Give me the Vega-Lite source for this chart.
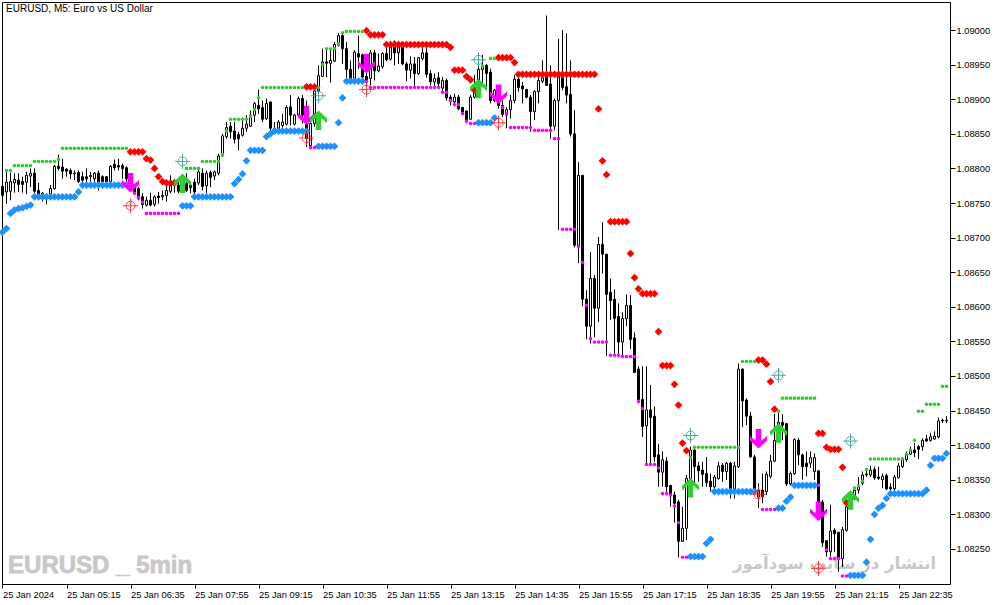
{"$schema":"https://vega.github.io/schema/vega-lite/v6.json","width":948,"height":582,"autosize":{"type":"none"},"padding":{"left":2,"top":2,"right":53,"bottom":21},"background":"#ffffff","view":{"stroke":"#000000","strokeWidth":1,"fill":"#ffffff"},
"config":{"axis":{"grid":false,"title":null,"domain":false,"tickColor":"#000000","labelColor":"#000000","labelFont":"Liberation Sans","labelFontSize":9.3}},
"datasets":{"bars":[
{"k":0,"o":1.08774,"h":1.08780,"l":1.08749,"c":1.08761,"b":1.08708},
{"k":1,"o":1.08766,"h":1.08795,"l":1.08749,"c":1.08780,"g":1.08797,"b":1.08713},
{"k":2,"o":1.08767,"h":1.08794,"l":1.08754,"c":1.08781,"g":1.08797,"b":1.08735},
{"k":3,"o":1.08779,"h":1.08793,"l":1.08765,"c":1.08784,"g":1.08804,"b":1.08740},
{"k":4,"o":1.08783,"h":1.08793,"l":1.08766,"c":1.08777,"g":1.08804,"b":1.08742},
{"k":5,"o":1.08781,"h":1.08788,"l":1.08765,"c":1.08777,"g":1.08804,"b":1.08743},
{"k":6,"o":1.08780,"h":1.08795,"l":1.08763,"c":1.08790,"g":1.08804,"b":1.08745},
{"k":7,"o":1.08789,"h":1.08800,"l":1.08773,"c":1.08793,"g":1.08804,"b":1.08747},
{"k":8,"o":1.08793,"h":1.08800,"l":1.08764,"c":1.08767,"g":1.08810,"b":1.08759},
{"k":9,"o":1.08768,"h":1.08779,"l":1.08754,"c":1.08762,"g":1.08810,"b":1.08759},
{"k":10,"o":1.08764,"h":1.08766,"l":1.08752,"c":1.08759,"g":1.08810,"b":1.08759},
{"k":11,"o":1.08760,"h":1.08764,"l":1.08748,"c":1.08758,"g":1.08810,"b":1.08759},
{"k":12,"o":1.08762,"h":1.08776,"l":1.08756,"c":1.08771,"g":1.08810,"b":1.08759},
{"k":13,"o":1.08771,"h":1.08805,"l":1.08769,"c":1.08803,"g":1.08810,"b":1.08759},
{"k":14,"o":1.08803,"h":1.08820,"l":1.08797,"c":1.08800,"g":1.08813,"b":1.08759},
{"k":15,"o":1.08802,"h":1.08814,"l":1.08785,"c":1.08796,"g":1.08829,"b":1.08759},
{"k":16,"o":1.08799,"h":1.08800,"l":1.08788,"c":1.08796,"g":1.08829,"b":1.08759},
{"k":17,"o":1.08797,"h":1.08800,"l":1.08785,"c":1.08792,"g":1.08829,"b":1.08759},
{"k":18,"o":1.08792,"h":1.08797,"l":1.08783,"c":1.08793,"g":1.08829,"b":1.08759},
{"k":19,"o":1.08794,"h":1.08797,"l":1.08779,"c":1.08781,"g":1.08829,"b":1.08766},
{"k":20,"o":1.08788,"h":1.08795,"l":1.08780,"c":1.08783,"g":1.08829,"b":1.08776},
{"k":21,"o":1.08788,"h":1.08800,"l":1.08773,"c":1.08785,"g":1.08829,"b":1.08776},
{"k":22,"o":1.08788,"h":1.08795,"l":1.08773,"c":1.08790,"g":1.08829,"b":1.08776},
{"k":23,"o":1.08785,"h":1.08795,"l":1.08773,"c":1.08793,"g":1.08829,"b":1.08776},
{"k":24,"o":1.08793,"h":1.08797,"l":1.08768,"c":1.08780,"g":1.08829,"b":1.08776},
{"k":25,"o":1.08788,"h":1.08790,"l":1.08771,"c":1.08781,"g":1.08829,"b":1.08776},
{"k":26,"o":1.08788,"h":1.08789,"l":1.08778,"c":1.08781,"g":1.08829,"b":1.08776},
{"k":27,"o":1.08781,"h":1.08805,"l":1.08778,"c":1.08803,"g":1.08829,"b":1.08776},
{"k":28,"o":1.08806,"h":1.08813,"l":1.08797,"c":1.08801,"g":1.08829,"b":1.08776},
{"k":29,"o":1.08804,"h":1.08814,"l":1.08797,"c":1.08802,"g":1.08829,"b":1.08776},
{"k":30,"o":1.08804,"h":1.08807,"l":1.08785,"c":1.08800,"g":1.08829,"b":1.08776},
{"k":31,"o":1.08801,"h":1.08803,"l":1.08780,"c":1.08785,"g":1.08829,"b":1.08776},
{"k":32,"o":1.08785,"h":1.08788,"l":1.08766,"c":1.08771,"r":1.08824},
{"k":33,"o":1.08772,"h":1.08776,"l":1.08764,"c":1.08766,"r":1.08824,"m":1.08764},
{"k":34,"o":1.08771,"h":1.08773,"l":1.08754,"c":1.08756,"r":1.08824,"m":1.08758},
{"k":35,"o":1.08759,"h":1.08764,"l":1.08742,"c":1.08748,"r":1.08824,"m":1.08751},
{"k":36,"o":1.08747,"h":1.08759,"l":1.08745,"c":1.08754,"r":1.08814,"m":1.08735},
{"k":37,"o":1.08754,"h":1.08765,"l":1.08745,"c":1.08747,"r":1.08812,"m":1.08735},
{"k":38,"o":1.08748,"h":1.08761,"l":1.08745,"c":1.08759,"r":1.08800,"m":1.08735},
{"k":39,"o":1.08760,"h":1.08766,"l":1.08749,"c":1.08758,"r":1.08788,"m":1.08735},
{"k":40,"o":1.08759,"h":1.08768,"l":1.08754,"c":1.08761,"r":1.08781,"m":1.08735},
{"k":41,"o":1.08761,"h":1.08776,"l":1.08752,"c":1.08768,"r":1.08779,"m":1.08735},
{"k":42,"o":1.08767,"h":1.08790,"l":1.08764,"c":1.08777,"r":1.08779,"m":1.08735},
{"k":43,"o":1.08776,"h":1.08785,"l":1.08765,"c":1.08780,"r":1.08779,"m":1.08735},
{"k":44,"o":1.08776,"h":1.08783,"l":1.08764,"c":1.08767,"m":1.08735},
{"k":45,"o":1.08766,"h":1.08788,"l":1.08764,"c":1.08778,"b":1.08746},
{"k":46,"o":1.08778,"h":1.08793,"l":1.08766,"c":1.08768,"g":1.08800,"b":1.08746},
{"k":47,"o":1.08776,"h":1.08780,"l":1.08764,"c":1.08772,"g":1.08800,"b":1.08746},
{"k":48,"o":1.08780,"h":1.08785,"l":1.08756,"c":1.08766,"g":1.08800,"b":1.08759},
{"k":49,"o":1.08779,"h":1.08800,"l":1.08776,"c":1.08795,"g":1.08800,"b":1.08759},
{"k":50,"o":1.08793,"h":1.08800,"l":1.08768,"c":1.08774,"g":1.08810,"b":1.08759},
{"k":51,"o":1.08775,"h":1.08797,"l":1.08764,"c":1.08793,"g":1.08810,"b":1.08759},
{"k":52,"o":1.08794,"h":1.08797,"l":1.08773,"c":1.08787,"g":1.08810,"b":1.08759},
{"k":53,"o":1.08789,"h":1.08797,"l":1.08783,"c":1.08795,"g":1.08810,"b":1.08759},
{"k":54,"o":1.08793,"h":1.08821,"l":1.08790,"c":1.08818,"g":1.08810,"b":1.08759},
{"k":55,"o":1.08818,"h":1.08850,"l":1.08817,"c":1.08847,"g":1.08820,"b":1.08759},
{"k":56,"o":1.08846,"h":1.08867,"l":1.08843,"c":1.08859,"g":1.08854,"b":1.08759},
{"k":57,"o":1.08861,"h":1.08867,"l":1.08843,"c":1.08853,"g":1.08871,"b":1.08759},
{"k":58,"o":1.08854,"h":1.08867,"l":1.08836,"c":1.08842,"g":1.08871,"b":1.08778},
{"k":59,"o":1.08849,"h":1.08853,"l":1.08826,"c":1.08843,"g":1.08871,"b":1.08784},
{"k":60,"o":1.08848,"h":1.08870,"l":1.08846,"c":1.08858,"g":1.08871,"b":1.08792},
{"k":61,"o":1.08858,"h":1.08877,"l":1.08853,"c":1.08864,"g":1.08871,"b":1.08811},
{"k":62,"o":1.08861,"h":1.08884,"l":1.08860,"c":1.08877,"g":1.08875,"b":1.08826},
{"k":63,"o":1.08877,"h":1.08896,"l":1.08867,"c":1.08894,"g":1.08885,"b":1.08826},
{"k":64,"o":1.08891,"h":1.08914,"l":1.08879,"c":1.08886,"g":1.08902,"b":1.08826},
{"k":65,"o":1.08888,"h":1.08898,"l":1.08867,"c":1.08871,"g":1.08917,"b":1.08826},
{"k":66,"o":1.08872,"h":1.08901,"l":1.08870,"c":1.08894,"g":1.08917,"b":1.08846},
{"k":67,"o":1.08896,"h":1.08897,"l":1.08853,"c":1.08858,"g":1.08917,"b":1.08850},
{"k":68,"o":1.08858,"h":1.08867,"l":1.08850,"c":1.08856,"g":1.08917,"b":1.08854},
{"k":69,"o":1.08856,"h":1.08870,"l":1.08853,"c":1.08867,"g":1.08917,"b":1.08854},
{"k":70,"o":1.08862,"h":1.08879,"l":1.08853,"c":1.08867,"g":1.08917,"b":1.08854},
{"k":71,"o":1.08864,"h":1.08891,"l":1.08862,"c":1.08888,"g":1.08917,"b":1.08854},
{"k":72,"o":1.08889,"h":1.08906,"l":1.08862,"c":1.08877,"g":1.08917,"b":1.08854},
{"k":73,"o":1.08864,"h":1.08879,"l":1.08862,"c":1.08877,"g":1.08917,"b":1.08854},
{"k":74,"o":1.08877,"h":1.08904,"l":1.08874,"c":1.08901,"g":1.08917,"b":1.08854},
{"k":75,"o":1.08901,"h":1.08906,"l":1.08865,"c":1.08877,"g":1.08917,"b":1.08854},
{"k":76,"o":1.08889,"h":1.08898,"l":1.08831,"c":1.08843,"r":1.08918,"b":1.08854},
{"k":77,"o":1.08833,"h":1.08872,"l":1.08831,"c":1.08865,"r":1.08918,"m":1.08830},
{"k":78,"o":1.08865,"h":1.08915,"l":1.08860,"c":1.08912,"r":1.08918,"m":1.08830},
{"k":79,"o":1.08912,"h":1.08949,"l":1.08908,"c":1.08934,"g":1.08917,"b":1.08832},
{"k":80,"o":1.08933,"h":1.08973,"l":1.08932,"c":1.08954,"g":1.08950,"b":1.08832},
{"k":81,"o":1.08954,"h":1.08971,"l":1.08932,"c":1.08952,"g":1.08973,"b":1.08832},
{"k":82,"o":1.08952,"h":1.08973,"l":1.08924,"c":1.08956,"g":1.08973,"b":1.08832},
{"k":83,"o":1.08955,"h":1.08983,"l":1.08954,"c":1.08979,"g":1.08973,"b":1.08832},
{"k":84,"o":1.08978,"h":1.08996,"l":1.08976,"c":1.08992,"g":1.08980,"b":1.08866},
{"k":85,"o":1.08992,"h":1.08997,"l":1.08951,"c":1.08973,"g":1.08996,"b":1.08902},
{"k":86,"o":1.08973,"h":1.08983,"l":1.08927,"c":1.08943,"g":1.08998,"b":1.08926},
{"k":87,"o":1.08943,"h":1.08956,"l":1.08927,"c":1.08930,"g":1.08998,"b":1.08926},
{"k":88,"o":1.08930,"h":1.08971,"l":1.08927,"c":1.08968,"g":1.08998,"b":1.08926},
{"k":89,"o":1.08966,"h":1.08992,"l":1.08944,"c":1.08961,"g":1.08998,"b":1.08926},
{"k":90,"o":1.08964,"h":1.08966,"l":1.08930,"c":1.08932,"g":1.08998,"b":1.08926},
{"k":91,"o":1.08933,"h":1.08942,"l":1.08920,"c":1.08927,"r":1.08999,"m":1.08926},
{"k":92,"o":1.08930,"h":1.08971,"l":1.08920,"c":1.08967,"r":1.08993,"m":1.08917},
{"k":93,"o":1.08967,"h":1.08971,"l":1.08927,"c":1.08941,"r":1.08993,"m":1.08917},
{"k":94,"o":1.08941,"h":1.08966,"l":1.08939,"c":1.08948,"r":1.08993,"m":1.08917},
{"k":95,"o":1.08947,"h":1.08968,"l":1.08944,"c":1.08966,"r":1.08993,"m":1.08917},
{"k":96,"o":1.08966,"h":1.08983,"l":1.08955,"c":1.08957,"r":1.08979,"m":1.08917},
{"k":97,"o":1.08958,"h":1.08983,"l":1.08956,"c":1.08978,"r":1.08979,"m":1.08917},
{"k":98,"o":1.08983,"h":1.08985,"l":1.08949,"c":1.08967,"r":1.08979,"m":1.08917},
{"k":99,"o":1.08967,"h":1.08983,"l":1.08951,"c":1.08976,"r":1.08979,"m":1.08917},
{"k":100,"o":1.08976,"h":1.08983,"l":1.08949,"c":1.08951,"r":1.08979,"m":1.08917},
{"k":101,"o":1.08951,"h":1.08954,"l":1.08926,"c":1.08942,"r":1.08979,"m":1.08917},
{"k":102,"o":1.08942,"h":1.08962,"l":1.08930,"c":1.08951,"r":1.08979,"m":1.08917},
{"k":103,"o":1.08951,"h":1.08961,"l":1.08917,"c":1.08937,"r":1.08979,"m":1.08917},
{"k":104,"o":1.08937,"h":1.08961,"l":1.08935,"c":1.08960,"r":1.08979,"m":1.08917},
{"k":105,"o":1.08959,"h":1.08976,"l":1.08956,"c":1.08967,"r":1.08979,"m":1.08917},
{"k":106,"o":1.08967,"h":1.08976,"l":1.08931,"c":1.08936,"r":1.08979,"m":1.08917},
{"k":107,"o":1.08937,"h":1.08942,"l":1.08920,"c":1.08925,"r":1.08979,"m":1.08917},
{"k":108,"o":1.08925,"h":1.08937,"l":1.08918,"c":1.08930,"r":1.08979,"m":1.08917},
{"k":109,"o":1.08931,"h":1.08939,"l":1.08915,"c":1.08923,"r":1.08979,"m":1.08917},
{"k":110,"o":1.08916,"h":1.08932,"l":1.08908,"c":1.08927,"r":1.08979,"m":1.08910},
{"k":111,"o":1.08927,"h":1.08930,"l":1.08898,"c":1.08902,"r":1.08979,"m":1.08910},
{"k":112,"o":1.08903,"h":1.08906,"l":1.08891,"c":1.08898,"r":1.08975,"m":1.08898},
{"k":113,"o":1.08896,"h":1.08908,"l":1.08891,"c":1.08903,"r":1.08942,"m":1.08892},
{"k":114,"o":1.08903,"h":1.08906,"l":1.08884,"c":1.08886,"r":1.08942,"m":1.08892},
{"k":115,"o":1.08888,"h":1.08889,"l":1.08877,"c":1.08881,"r":1.08942,"m":1.08879},
{"k":116,"o":1.08883,"h":1.08884,"l":1.08865,"c":1.08870,"r":1.08933,"m":1.08868},
{"k":117,"o":1.08871,"h":1.08906,"l":1.08870,"c":1.08903,"r":1.08928,"m":1.08865},
{"k":118,"o":1.08903,"h":1.08935,"l":1.08901,"c":1.08913,"r":1.08913,"m":1.08865},
{"k":119,"o":1.08913,"h":1.08949,"l":1.08911,"c":1.08943,"b":1.08866},
{"k":120,"o":1.08943,"h":1.08964,"l":1.08923,"c":1.08949,"g":1.08948,"b":1.08866},
{"k":121,"o":1.08949,"h":1.08951,"l":1.08918,"c":1.08937,"b":1.08866},
{"k":122,"o":1.08939,"h":1.08944,"l":1.08894,"c":1.08898,"g":1.08959,"b":1.08866},
{"k":123,"o":1.08898,"h":1.08915,"l":1.08896,"c":1.08913,"g":1.08959,"b":1.08873},
{"k":124,"o":1.08898,"h":1.08903,"l":1.08886,"c":1.08891,"r":1.08960},
{"k":125,"o":1.08891,"h":1.08898,"l":1.08874,"c":1.08878,"r":1.08960,"m":1.08888},
{"k":126,"o":1.08877,"h":1.08889,"l":1.08858,"c":1.08885,"r":1.08960,"m":1.08879},
{"k":127,"o":1.08885,"h":1.08906,"l":1.08872,"c":1.08898,"r":1.08960,"m":1.08859},
{"k":128,"o":1.08898,"h":1.08935,"l":1.08894,"c":1.08929,"r":1.08953,"m":1.08859},
{"k":129,"o":1.08929,"h":1.08935,"l":1.08911,"c":1.08917,"r":1.08936,"m":1.08859},
{"k":130,"o":1.08919,"h":1.08925,"l":1.08894,"c":1.08915,"r":1.08936,"m":1.08859},
{"k":131,"o":1.08914,"h":1.08915,"l":1.08901,"c":1.08903,"r":1.08936,"m":1.08859},
{"k":132,"o":1.08903,"h":1.08906,"l":1.08853,"c":1.08882,"r":1.08936,"m":1.08859},
{"k":133,"o":1.08882,"h":1.08913,"l":1.08870,"c":1.08911,"r":1.08936,"m":1.08855},
{"k":134,"o":1.08911,"h":1.08932,"l":1.08894,"c":1.08927,"r":1.08936,"m":1.08855},
{"k":135,"o":1.08926,"h":1.08956,"l":1.08923,"c":1.08931,"r":1.08936,"m":1.08855},
{"k":136,"o":1.08935,"h":1.09021,"l":1.08920,"c":1.08920,"r":1.08936,"m":1.08855},
{"k":137,"o":1.08922,"h":1.08949,"l":1.08843,"c":1.08861,"r":1.08936,"m":1.08855},
{"k":138,"o":1.08861,"h":1.08901,"l":1.08855,"c":1.08898,"r":1.08936,"m":1.08843},
{"k":139,"o":1.08898,"h":1.08987,"l":1.08711,"c":1.08935,"r":1.08936,"m":1.08843},
{"k":140,"o":1.08931,"h":1.09000,"l":1.08913,"c":1.08917,"r":1.08936,"m":1.08712},
{"k":141,"o":1.08918,"h":1.08995,"l":1.08894,"c":1.08906,"r":1.08936,"m":1.08712},
{"k":142,"o":1.08907,"h":1.08956,"l":1.08846,"c":1.08850,"r":1.08936,"m":1.08712},
{"k":143,"o":1.08850,"h":1.08884,"l":1.08686,"c":1.08689,"r":1.08936,"m":1.08712},
{"k":144,"o":1.08689,"h":1.08809,"l":1.08663,"c":1.08790,"r":1.08936,"m":1.08687},
{"k":145,"o":1.08790,"h":1.08790,"l":1.08601,"c":1.08611,"r":1.08936,"m":1.08664},
{"k":146,"o":1.08611,"h":1.08624,"l":1.08553,"c":1.08572,"r":1.08936,"m":1.08602},
{"k":147,"o":1.08572,"h":1.08679,"l":1.08547,"c":1.08641,"r":1.08936,"m":1.08554},
{"k":148,"o":1.08641,"h":1.08646,"l":1.08556,"c":1.08598,"r":1.08936,"m":1.08549},
{"k":149,"o":1.08598,"h":1.08701,"l":1.08578,"c":1.08690,"r":1.08886,"m":1.08549},
{"k":150,"o":1.08690,"h":1.08722,"l":1.08648,"c":1.08676,"r":1.08811,"m":1.08549},
{"k":151,"o":1.08676,"h":1.08676,"l":1.08529,"c":1.08618,"r":1.08791,"m":1.08549},
{"k":152,"o":1.08621,"h":1.08641,"l":1.08581,"c":1.08609,"r":1.08723,"m":1.08530},
{"k":153,"o":1.08611,"h":1.08625,"l":1.08531,"c":1.08583,"r":1.08723,"m":1.08530},
{"k":154,"o":1.08586,"h":1.08605,"l":1.08527,"c":1.08549,"r":1.08723,"m":1.08530},
{"k":155,"o":1.08549,"h":1.08592,"l":1.08527,"c":1.08583,"r":1.08723,"m":1.08528},
{"k":156,"o":1.08583,"h":1.08618,"l":1.08572,"c":1.08602,"r":1.08723,"m":1.08528},
{"k":157,"o":1.08602,"h":1.08617,"l":1.08539,"c":1.08553,"r":1.08677,"m":1.08528},
{"k":158,"o":1.08555,"h":1.08563,"l":1.08505,"c":1.08505,"r":1.08642,"m":1.08528},
{"k":159,"o":1.08510,"h":1.08514,"l":1.08462,"c":1.08466,"r":1.08626,"m":1.08463},
{"k":160,"o":1.08466,"h":1.08514,"l":1.08412,"c":1.08427,"r":1.08619,"m":1.08453},
{"k":161,"o":1.08428,"h":1.08514,"l":1.08374,"c":1.08451,"r":1.08619,"m":1.08372},
{"k":162,"o":1.08451,"h":1.08487,"l":1.08371,"c":1.08440,"r":1.08619,"m":1.08372},
{"k":163,"o":1.08442,"h":1.08456,"l":1.08376,"c":1.08383,"r":1.08619,"m":1.08372},
{"k":164,"o":1.08386,"h":1.08402,"l":1.08340,"c":1.08361,"r":1.08564,"m":1.08367},
{"k":165,"o":1.08361,"h":1.08391,"l":1.08340,"c":1.08379,"r":1.08515,"m":1.08330},
{"k":166,"o":1.08377,"h":1.08383,"l":1.08328,"c":1.08340,"r":1.08515,"m":1.08330},
{"k":167,"o":1.08342,"h":1.08342,"l":1.08311,"c":1.08327,"r":1.08515,"m":1.08328},
{"k":168,"o":1.08328,"h":1.08333,"l":1.08288,"c":1.08316,"r":1.08488,"m":1.08312},
{"k":169,"o":1.08318,"h":1.08321,"l":1.08238,"c":1.08261,"r":1.08458,"m":1.08288},
{"k":170,"o":1.08261,"h":1.08311,"l":1.08261,"c":1.08280,"r":1.08403,"m":1.08238},
{"k":171,"o":1.08280,"h":1.08357,"l":1.08263,"c":1.08352,"r":1.08392,"m":1.08238},
{"k":172,"o":1.08352,"h":1.08398,"l":1.08326,"c":1.08393,"g":1.08382,"b":1.08239},
{"k":173,"o":1.08393,"h":1.08395,"l":1.08345,"c":1.08369,"g":1.08397,"b":1.08239},
{"k":174,"o":1.08370,"h":1.08376,"l":1.08347,"c":1.08363,"g":1.08397,"b":1.08239},
{"k":175,"o":1.08364,"h":1.08376,"l":1.08340,"c":1.08358,"g":1.08397,"b":1.08239},
{"k":176,"o":1.08359,"h":1.08383,"l":1.08340,"c":1.08346,"g":1.08397,"b":1.08258},
{"k":177,"o":1.08348,"h":1.08359,"l":1.08333,"c":1.08340,"g":1.08397,"b":1.08264},
{"k":178,"o":1.08340,"h":1.08357,"l":1.08328,"c":1.08354,"g":1.08397,"b":1.08333},
{"k":179,"o":1.08352,"h":1.08376,"l":1.08350,"c":1.08370,"g":1.08397,"b":1.08333},
{"k":180,"o":1.08371,"h":1.08374,"l":1.08347,"c":1.08362,"g":1.08397,"b":1.08333},
{"k":181,"o":1.08362,"h":1.08376,"l":1.08350,"c":1.08374,"g":1.08397,"b":1.08333},
{"k":182,"o":1.08374,"h":1.08376,"l":1.08323,"c":1.08337,"g":1.08397,"b":1.08333},
{"k":183,"o":1.08337,"h":1.08376,"l":1.08323,"c":1.08370,"g":1.08397,"b":1.08333},
{"k":184,"o":1.08369,"h":1.08518,"l":1.08367,"c":1.08510,"g":1.08397,"b":1.08333},
{"k":185,"o":1.08510,"h":1.08511,"l":1.08426,"c":1.08464,"g":1.08521,"b":1.08333},
{"k":186,"o":1.08465,"h":1.08468,"l":1.08429,"c":1.08442,"g":1.08521,"b":1.08333},
{"k":187,"o":1.08442,"h":1.08448,"l":1.08382,"c":1.08383,"g":1.08521,"b":1.08333},
{"k":188,"o":1.08383,"h":1.08386,"l":1.08330,"c":1.08337,"g":1.08521,"b":1.08333},
{"k":189,"o":1.08325,"h":1.08345,"l":1.08309,"c":1.08335,"r":1.08523},
{"k":190,"o":1.08335,"h":1.08359,"l":1.08316,"c":1.08326,"r":1.08523,"m":1.08307},
{"k":191,"o":1.08333,"h":1.08362,"l":1.08328,"c":1.08358,"r":1.08517,"m":1.08307},
{"k":192,"o":1.08355,"h":1.08386,"l":1.08352,"c":1.08377,"r":1.08492,"m":1.08307},
{"k":193,"o":1.08377,"h":1.08445,"l":1.08376,"c":1.08407,"r":1.08452,"m":1.08307},
{"k":194,"o":1.08407,"h":1.08451,"l":1.08405,"c":1.08433,"g":1.08449,"b":1.08309},
{"k":195,"o":1.08433,"h":1.08445,"l":1.08407,"c":1.08429,"g":1.08468,"b":1.08309},
{"k":196,"o":1.08431,"h":1.08432,"l":1.08341,"c":1.08344,"g":1.08468,"b":1.08319},
{"k":197,"o":1.08344,"h":1.08362,"l":1.08342,"c":1.08359,"g":1.08468,"b":1.08325},
{"k":198,"o":1.08359,"h":1.08410,"l":1.08357,"c":1.08408,"g":1.08468,"b":1.08342},
{"k":199,"o":1.08407,"h":1.08410,"l":1.08371,"c":1.08386,"g":1.08468,"b":1.08342},
{"k":200,"o":1.08386,"h":1.08388,"l":1.08350,"c":1.08369,"g":1.08468,"b":1.08342},
{"k":201,"o":1.08374,"h":1.08391,"l":1.08355,"c":1.08369,"g":1.08468,"b":1.08342},
{"k":202,"o":1.08374,"h":1.08391,"l":1.08367,"c":1.08382,"g":1.08468,"b":1.08342},
{"k":203,"o":1.08362,"h":1.08388,"l":1.08350,"c":1.08382,"g":1.08468,"b":1.08342},
{"k":204,"o":1.08363,"h":1.08363,"l":1.08316,"c":1.08317,"r":1.08417,"m":1.08342},
{"k":205,"o":1.08318,"h":1.08321,"l":1.08253,"c":1.08259,"r":1.08417},
{"k":206,"o":1.08262,"h":1.08263,"l":1.08239,"c":1.08246,"r":1.08397,"m":1.08249},
{"k":207,"o":1.08246,"h":1.08314,"l":1.08239,"c":1.08276,"r":1.08394,"m":1.08236},
{"k":208,"o":1.08277,"h":1.08280,"l":1.08246,"c":1.08272,"r":1.08394,"m":1.08236},
{"k":209,"o":1.08274,"h":1.08275,"l":1.08217,"c":1.08236,"r":1.08394,"m":1.08236},
{"k":210,"o":1.08236,"h":1.08282,"l":1.08224,"c":1.08278,"r":1.08368,"m":1.08211},
{"k":211,"o":1.08277,"h":1.08316,"l":1.08275,"c":1.08311,"r":1.08317,"m":1.08211},
{"k":212,"o":1.08311,"h":1.08333,"l":1.08309,"c":1.08323,"b":1.08212},
{"k":213,"o":1.08323,"h":1.08340,"l":1.08321,"c":1.08335,"g":1.08338,"b":1.08212},
{"k":214,"o":1.08335,"h":1.08354,"l":1.08330,"c":1.08342,"g":1.08341,"b":1.08212},
{"k":215,"o":1.08345,"h":1.08362,"l":1.08342,"c":1.08357,"g":1.08348,"b":1.08212},
{"k":216,"o":1.08358,"h":1.08367,"l":1.08354,"c":1.08357,"g":1.08365,"b":1.08231},
{"k":217,"o":1.08357,"h":1.08370,"l":1.08354,"c":1.08364,"g":1.08380,"b":1.08264},
{"k":218,"o":1.08365,"h":1.08369,"l":1.08350,"c":1.08353,"g":1.08380,"b":1.08300},
{"k":219,"o":1.08354,"h":1.08369,"l":1.08350,"c":1.08352,"g":1.08380,"b":1.08309},
{"k":220,"o":1.08350,"h":1.08359,"l":1.08338,"c":1.08355,"g":1.08380,"b":1.08313},
{"k":221,"o":1.08356,"h":1.08359,"l":1.08335,"c":1.08337,"g":1.08380,"b":1.08323},
{"k":222,"o":1.08339,"h":1.08345,"l":1.08330,"c":1.08337,"g":1.08380,"b":1.08330},
{"k":223,"o":1.08337,"h":1.08357,"l":1.08333,"c":1.08354,"g":1.08380,"b":1.08330},
{"k":224,"o":1.08353,"h":1.08374,"l":1.08352,"c":1.08370,"g":1.08380,"b":1.08330},
{"k":225,"o":1.08369,"h":1.08383,"l":1.08367,"c":1.08379,"g":1.08380,"b":1.08330},
{"k":226,"o":1.08379,"h":1.08391,"l":1.08376,"c":1.08387,"g":1.08387,"b":1.08330},
{"k":227,"o":1.08387,"h":1.08398,"l":1.08386,"c":1.08393,"g":1.08393,"b":1.08330},
{"k":228,"o":1.08393,"h":1.08403,"l":1.08383,"c":1.08389,"g":1.08407,"b":1.08330},
{"k":229,"o":1.08398,"h":1.08400,"l":1.08380,"c":1.08394,"g":1.08449,"b":1.08330},
{"k":230,"o":1.08398,"h":1.08410,"l":1.08392,"c":1.08407,"g":1.08449,"b":1.08330},
{"k":231,"o":1.08409,"h":1.08415,"l":1.08405,"c":1.08406,"g":1.08459,"b":1.08335},
{"k":232,"o":1.08407,"h":1.08418,"l":1.08405,"c":1.08412,"g":1.08459,"b":1.08371},
{"k":233,"o":1.08409,"h":1.08420,"l":1.08408,"c":1.08413,"g":1.08459,"b":1.08381},
{"k":234,"o":1.08412,"h":1.08440,"l":1.08410,"c":1.08435,"g":1.08459,"b":1.08381},
{"k":235,"o":1.08435,"h":1.08438,"l":1.08432,"c":1.08436,"g":1.08485,"b":1.08381},
{"k":236,"o":1.08435,"h":1.08442,"l":1.08432,"c":1.08436,"g":1.08485,"b":1.08388}
],
"signals":[
{"k":32,"down":1.08779,"hit":1.08746},
{"k":76,"down":1.08876,"hit":1.08844},
{"k":91,"down":1.08951,"hit":1.08914},
{"k":124,"down":1.08907,"hit":1.08866},
{"k":189,"down":1.08409,"hit":1.08329},
{"k":204,"down":1.08304,"hit":1.08222},
{"k":45,"up":1.08779,"aim":1.08810},
{"k":79,"up":1.08870,"aim":1.08905},
{"k":119,"up":1.08916,"aim":1.08957},
{"k":172,"up":1.08339,"aim":1.08414},
{"k":194,"up":1.08418,"aim":1.08501},
{"k":212,"up":1.08321,"aim":1.08406}
],
"labels":[
{"k":0.9,"v":1.0903,"t":"EURUSD, M5:  Euro vs US Dollar"}
],
"marksA":[{"k":1.4,"v":1.08226,"t":"EURUSD _ 5min"}],
"marksB":[{"k":233.4,"v":1.08228,"t":"انتشار در سایت سودآموز"}]
},
"layer":[
{"data":{"name":"marksA"},"mark":{"type":"text","align":"left","baseline":"middle","font":"Liberation Sans","fontWeight":"bold","fontSize":24,"fill":"#c8c8c8","stroke":"#c8c8c8","strokeWidth":0.8},"encoding":{"x":{"field":"k","type":"quantitative","scale":{"domain":[-0.125,236.875],"nice":false,"zero":false,"padding":0},"axis":{"values":[0,16,32,48,64,80,96,112,128,144,160,176,192,208,224],"tickSize":4,"labelAlign":"left","labelPadding":2,"labelOverlap":false,"labelBound":false,"labelFlush":false,"labelExpr":"['25 Jan 2024','25 Jan 05:15','25 Jan 06:35','25 Jan 07:55','25 Jan 09:15','25 Jan 10:35','25 Jan 11:55','25 Jan 13:15','25 Jan 14:35','25 Jan 15:55','25 Jan 17:15','25 Jan 18:35','25 Jan 19:55','25 Jan 21:15','25 Jan 22:35'][datum.value/16]"}},"y":{"field":"v","type":"quantitative","scale":{"domain":[1.081994,1.090405],"nice":false,"zero":false},"axis":{"orient":"right","tickCount":20,"values":[1.0825,1.083,1.0835,1.084,1.0845,1.085,1.0855,1.086,1.0865,1.087,1.0875,1.088,1.0885,1.089,1.0895,1.09],"format":".5f","tickSize":5,"labelPadding":1,"labelOverlap":false,"labelBound":false,"labelFlush":false}},"text":{"field":"t"}}},
{"data":{"name":"marksB"},"mark":{"type":"text","align":"right","baseline":"middle","font":"DejaVu Sans","fontWeight":"bold","fontSize":16.5,"fill":"#c8c8c8"},"encoding":{"x":{"field":"k","type":"quantitative"},"y":{"field":"v","type":"quantitative"},"text":{"field":"t"}}},
{"data":{"name":"labels"},"mark":{"type":"text","align":"left","baseline":"middle","font":"Liberation Sans","fontSize":10,"fill":"#000000"},"encoding":{"x":{"field":"k","type":"quantitative"},"y":{"field":"v","type":"quantitative"},"text":{"field":"t"}}},
{"data":{"name":"bars"},"mark":{"type":"rule","stroke":"#000000","strokeWidth":1},"encoding":{"x":{"field":"k","type":"quantitative"},"y":{"field":"h","type":"quantitative"},"y2":{"field":"l"}}},
{"data":{"name":"bars"},"mark":{"type":"bar","orient":"vertical","size":2,"stroke":"#000000","strokeWidth":1},"encoding":{"x":{"field":"k","type":"quantitative"},"y":{"field":"o","type":"quantitative"},"y2":{"field":"c"},"fill":{"condition":{"test":"datum.c<datum.o","value":"#000000"},"value":"#ffffff"}}},
{"data":{"name":"bars"},"mark":{"type":"point","shape":"diamond","filled":true,"size":60,"fill":"#ff0000","opacity":1},"encoding":{"x":{"field":"k","type":"quantitative"},"y":{"field":"r","type":"quantitative"}}},
{"data":{"name":"bars"},"mark":{"type":"point","shape":"diamond","filled":true,"size":60,"fill":"#1e90ff","opacity":1},"encoding":{"x":{"field":"k","type":"quantitative"},"y":{"field":"b","type":"quantitative"}}},
{"data":{"name":"bars"},"mark":{"type":"point","shape":"circle","filled":true,"size":13,"fill":"#32cd32","opacity":1},"encoding":{"x":{"field":"k","type":"quantitative"},"y":{"field":"g","type":"quantitative"}}},
{"data":{"name":"bars"},"mark":{"type":"point","shape":"circle","filled":true,"size":13,"fill":"#ff00ff","opacity":1},"encoding":{"x":{"field":"k","type":"quantitative"},"y":{"field":"m","type":"quantitative"}}},
{"data":{"name":"signals"},"mark":{"type":"point","shape":"M-0.28,-1L0.28,-1L0.28,0.18L0.85,-0.3L0.85,0.15L0,0.95L-0.85,0.15L-0.85,-0.3L-0.28,0.18Z","filled":true,"size":400,"fill":"#ff00ff","opacity":1},"encoding":{"x":{"field":"k","type":"quantitative"},"y":{"field":"down","type":"quantitative"}}},
{"data":{"name":"signals"},"mark":{"type":"point","shape":"M-0.28,1L0.28,1L0.28,-0.18L0.85,0.3L0.85,-0.15L0,-0.95L-0.85,-0.15L-0.85,0.3L-0.28,-0.18Z","filled":true,"size":400,"fill":"#32cd32","opacity":1},"encoding":{"x":{"field":"k","type":"quantitative"},"y":{"field":"up","type":"quantitative"}}},
{"data":{"name":"signals"},"mark":{"type":"point","shape":"M-1,0L1,0M0,-1L0,1M0.6,0A0.6,0.6 0 1 1 -0.6,0A0.6,0.6 0 1 1 0.6,0","filled":false,"size":225,"stroke":"#ff2020","strokeWidth":1,"opacity":0.85},"encoding":{"x":{"field":"k","type":"quantitative"},"y":{"field":"hit","type":"quantitative"}}},
{"data":{"name":"signals"},"mark":{"type":"point","shape":"M-1,0L1,0M0,-1L0,1M0.6,0A0.6,0.6 0 1 1 -0.6,0A0.6,0.6 0 1 1 0.6,0","filled":false,"size":225,"stroke":"#2e9e8e","strokeWidth":1,"opacity":0.85},"encoding":{"x":{"field":"k","type":"quantitative"},"y":{"field":"aim","type":"quantitative"}}}
]}
